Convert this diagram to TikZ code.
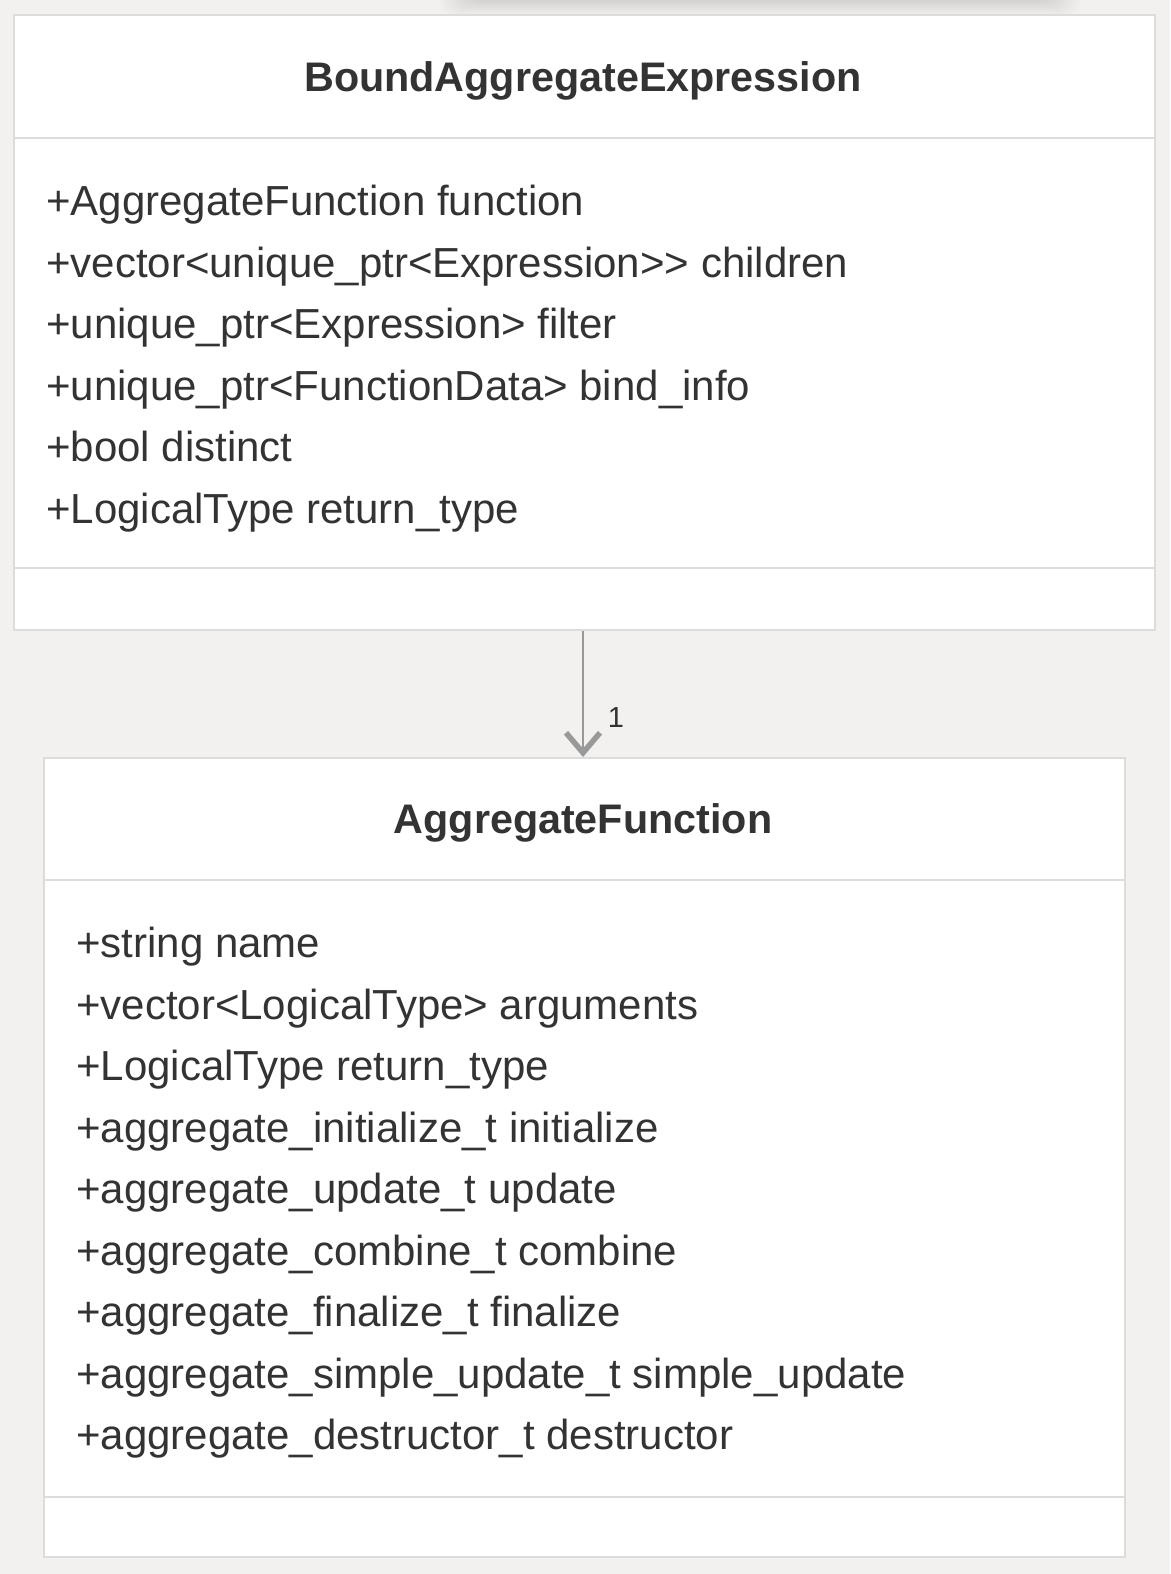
\documentclass[tikz,border=0pt]{standalone}
\usepackage{fontspec}
\setmainfont{Liberation Sans}
\usetikzlibrary{arrows.meta}
\definecolor{bg}{HTML}{F2F1EF}
\definecolor{boxline}{HTML}{DCDCDC}
\definecolor{txt}{HTML}{333333}
\definecolor{arr}{HTML}{999999}
\tikzset{
  classbox/.style={draw=boxline, line width=2pt, fill=white, inner sep=0pt},
  divider/.style={draw=boxline, line width=2pt},
  titletext/.style={font=\fontsize{41.3}{48}\selectfont\bfseries, text=txt, inner sep=0pt},
  attrtext/.style={font=\fontsize{42}{48}\selectfont, text=txt, anchor=base west, inner sep=0pt},
  multtext/.style={font=\fontsize{29}{32}\selectfont, text=txt, inner sep=0pt},
  assoc/.style={draw=arr, line width=2.8pt, -{Straight Barb[length=20pt,width=34pt,line width=5.5pt]}}
}
\begin{document}
\begin{tikzpicture}[x=1pt,y=-1pt]
\useasboundingbox[fill=bg] (0,0) rectangle (1170,1574);
% faint soft shadow of an element above
\foreach \i in {0,...,11}{
  \fill[black, opacity=0.012, rounded corners=14pt] (440+\i*3,-30) rectangle (1080-\i*3,16-\i*1.6);
}
% top class
\node[classbox, minimum width=1141pt, minimum height=615pt] (bae) at (584.5,322.5) {};
\draw[divider] (14,138) -- (1155,138);
\draw[divider] (14,568) -- (1155,568);
\node[titletext] (baet) at (583,81) {BoundAggregateExpression};
\node[attrtext] (a1) at (46,215) {+AggregateFunction function};
\node[attrtext] (a2) at (46,277) {+vector<unique\_ptr<Expression>{}> children};
\node[attrtext] (a3) at (46,338) {+unique\_ptr<Expression> filter};
\node[attrtext] (a4) at (46,400) {+unique\_ptr<FunctionData> bind\_info};
\node[attrtext] (a5) at (46,461) {+bool distinct};
\node[attrtext] (a6) at (46,523) {+LogicalType return\_type};
% bottom class
\node[classbox, minimum width=1081pt, minimum height=799pt] (af) at (584.5,1157.5) {};
\draw[divider] (44,880) -- (1125,880);
\draw[divider] (44,1497) -- (1125,1497);
\node[titletext] (aft) at (583,823) {AggregateFunction};
\node[attrtext] (b1) at (76,957) {+string name};
\node[attrtext] (b2) at (76,1019) {+vector<LogicalType> arguments};
\node[attrtext] (b3) at (76,1080) {+LogicalType return\_type};
\node[attrtext] (b4) at (76,1142) {+aggregate\_initialize\_t initialize};
\node[attrtext] (b5) at (76,1203) {+aggregate\_update\_t update};
\node[attrtext] (b6) at (76,1265) {+aggregate\_combine\_t combine};
\node[attrtext] (b7) at (76,1326) {+aggregate\_finalize\_t finalize};
\node[attrtext] (b8) at (76,1388) {+aggregate\_simple\_update\_t simple\_update};
\node[attrtext] (b9) at (76,1449) {+aggregate\_destructor\_t destructor};
% association
\draw[assoc] (bae.south -| 583,0) -- (af.north -| 583,0);
\node[multtext] (m1) at (616,718) {1};
\end{tikzpicture}
\end{document}
